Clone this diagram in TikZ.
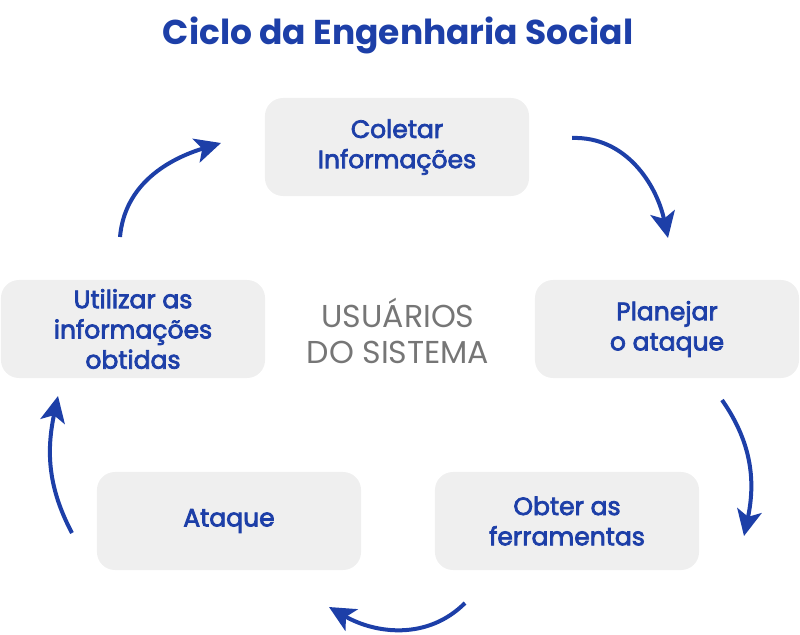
\documentclass[tikz,border=0pt]{standalone}
\usepackage{fontspec}
\setmainfont{Poppins}
\newfontfamily\boxfont[FakeBold=3]{Poppins}
\usetikzlibrary{arrows.meta}
\definecolor{cycleblue}{RGB}{29,63,168}
\definecolor{boxgray}{RGB}{239,239,239}
\definecolor{textgray}{RGB}{118,118,118}

\begin{document}
\begin{tikzpicture}[x=0.025cm, y=0.025cm,
	box/.style={rectangle, rounded corners=0.45cm, fill=boxgray, minimum width=6.6cm, minimum height=2.45cm, align=center, text=cycleblue, font=\boxfont\fontsize{17.8}{21.5}\selectfont},
	cyc/.style={draw=cycleblue, line width=1mm, -{Stealth[length=6.5mm, width=6.2mm, inset=1.6mm]}}]
	\useasboundingbox (0,0) rectangle (800,634);

	% Title
	\node[text=cycleblue, font=\bfseries\fontsize{24.5}{28}\selectfont] (title) at (398,599) {Ciclo da Engenharia Social};

	% The five steps of the cycle
	\node[box] (coletar) at (397,487) {Coletar\\Informações};
	\node[box] (planejar) at (667,305) {Planejar\\o ataque};
	\node[box] (obter) at (567,113) {Obter as\\ferramentas};
	\node[box] (ataque) at (229,113) {Ataque};
	\node[box] (utilizar) at (133,305) {Utilizar as\\informações\\obtidas};

	% Centre text
	\node[text=textgray, align=center, font=\fontsize{22.5}{25}\selectfont] (usuarios) at (398,303) {USUÁRIOS\\DO SISTEMA};

	% Arrow ends
	\coordinate (a1s) at (120,397);
	\coordinate (a1e) at (221,491);
	\coordinate (a2s) at (572,496);
	\coordinate (a2e) at (668,396);
	\coordinate (a3s) at (722,234);
	\coordinate (a3e) at (744,98);
	\coordinate (a4s) at (465,31);
	\coordinate (a4e) at (329,27);
	\coordinate (a5s) at (72,101);
	\coordinate (a5e) at (58,238);

	% Arrows between the steps
	\draw[cyc] (a1s) to[out=85, in=197] (a1e);
	\draw[cyc] (a2s) to[out=2, in=102] (a2e);
	\draw[cyc] (a3s) to[out=-55, in=78] (a3e);
	\draw[cyc] (a4s) to[out=225, in=-30] (a4e);
	\draw[cyc] (a5s) to[out=118, in=-102] (a5e);
\end{tikzpicture}
\end{document}
